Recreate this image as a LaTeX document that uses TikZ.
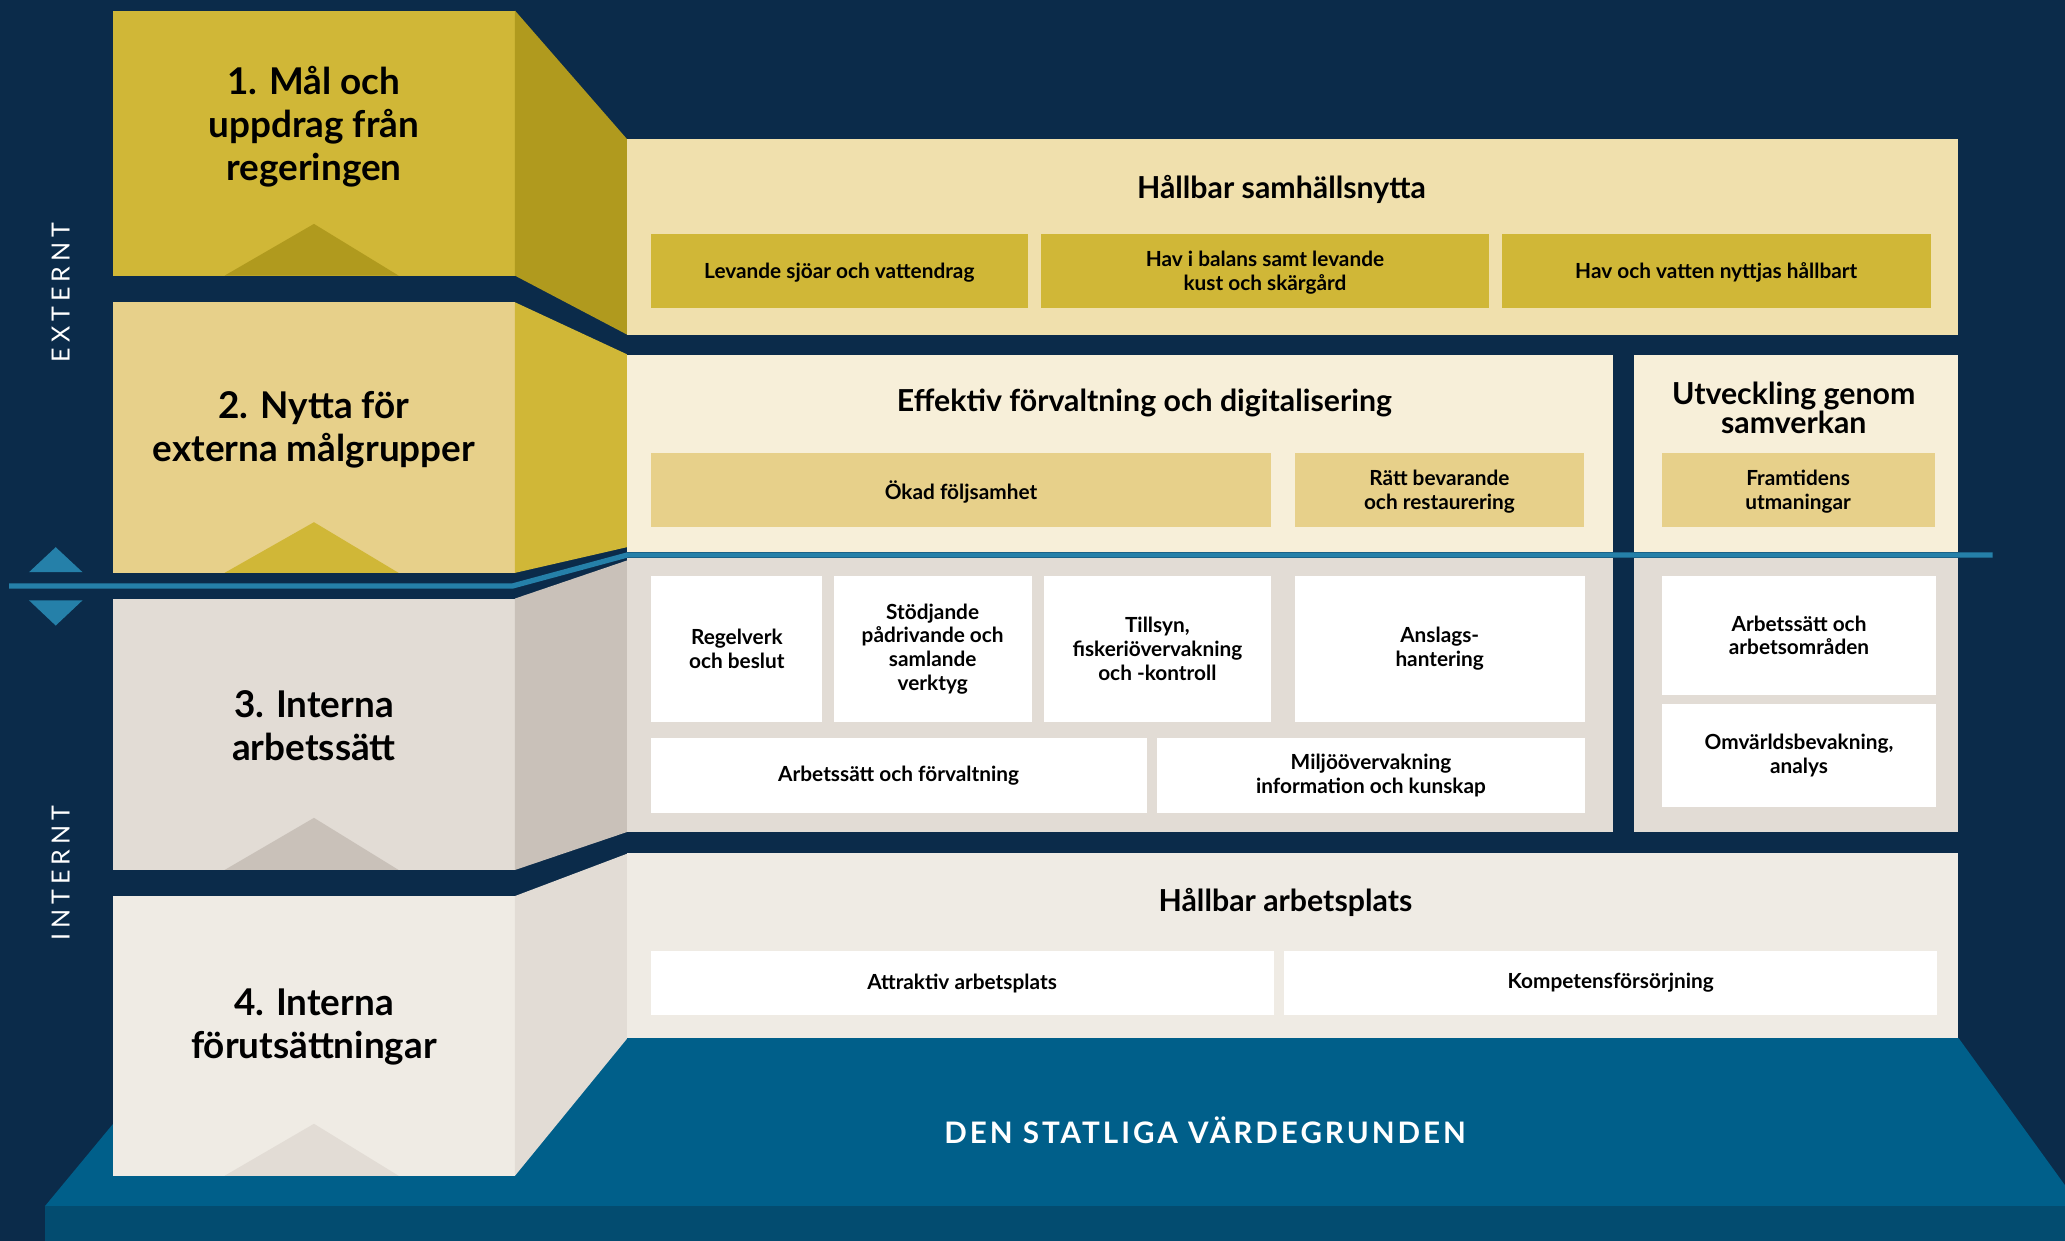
\documentclass[tikz,border=0pt]{standalone}
\usepackage{fontspec}
\setmainfont{Lato}
\newfontfamily\spacedfont[LetterSpace=20]{Lato}
\newfontfamily\spacedbold[LetterSpace=10]{Lato}
\definecolor{navy}{HTML}{0B2B4A}
\definecolor{mustard}{HTML}{D0B737}
\definecolor{mustarddk}{HTML}{B09A1E}
\definecolor{mustardlt}{HTML}{E7D08A}
\definecolor{sand}{HTML}{F0E0AD}
\definecolor{cream}{HTML}{F7EFD9}
\definecolor{greyA}{HTML}{E2DCD5}
\definecolor{greyB}{HTML}{C9C1B9}
\definecolor{offwhite}{HTML}{EFEBE4}
\definecolor{baseblue}{HTML}{005F8A}
\definecolor{stripblue}{HTML}{034C70}
\definecolor{lineblue}{HTML}{2580A9}
\begin{document}
\begin{tikzpicture}[x=1pt,y=-1pt,
  sidetext/.style={text=white, font=\spacedfont\fontsize{19}{19}\selectfont, rotate=90, inner sep=0pt},
  blocktitle/.style={font=\bfseries\fontsize{28}{32.5}\selectfont, align=center, inner sep=0pt},
  paneltitle/.style={font=\bfseries\fontsize{23}{22}\selectfont, align=center, inner sep=0pt},
  box/.style={inner sep=0pt, outer sep=0pt, align=center, font=\bfseries\fontsize{15.8}{18}\selectfont},
  ybox/.style={box, fill=mustard, text depth=0pt},
  lybox/.style={box, fill=mustardlt, text depth=0pt},
  wbox/.style={box, fill=white},
  basetext/.style={text=white, font=\spacedbold\bfseries\fontsize{22.5}{22.5}\selectfont, inner sep=0pt}]
\useasboundingbox (0,0) rectangle (1568,942.3);
\fill[navy] (0,0) rectangle (1568,942.3);
% base
\fill[baseblue] (34,916) -- (140,788) -- (1487,788) -- (1568,900) -- (1568,916) -- cycle;
\fill[stripblue] (34,916) rectangle (1568,942.3);
% panels
\fill[sand] (476,105.5) rectangle (1487,254);
\fill[cream] (476,269.6) rectangle (1225,419);
\fill[cream] (1241,269.6) rectangle (1487,419);
\fill[greyA] (476,424) rectangle (1225,631.5);
\fill[greyA] (1241,424) rectangle (1487,631.5);
\fill[offwhite] (476,648) rectangle (1487,788);
% block 1
\fill[mustard] (86,8) rectangle (391,209.3);
\fill[mustarddk] (391,8) -- (476,105.5) -- (476,254) -- (391,209.3) -- cycle;
\fill[mustarddk] (170.5,209.3) -- (238.4,170) -- (302.7,209.3) -- cycle;
% block 2
\fill[mustardlt] (86,229.5) rectangle (391,435);
\fill[mustard] (391,229.5) -- (476,269) -- (476,415.5) -- (391,435) -- cycle;
\fill[mustard] (170.5,435) -- (238.4,396.5) -- (302.7,435) -- cycle;
% block 3
\fill[greyA] (86,454.5) rectangle (391,660.6);
\fill[greyB] (391,454.5) -- (476,425.6) -- (476,631.8) -- (391,660.6) -- cycle;
\fill[greyB] (170.5,660.6) -- (238.4,621) -- (302.7,660.6) -- cycle;
% block 4
\fill[offwhite] (86,680.4) rectangle (391,892.8);
\fill[greyA] (391,680.4) -- (476,648.3) -- (476,788.8) -- (391,892.8) -- cycle;
\fill[greyA] (170.5,892.8) -- (238.4,853.3) -- (302.7,892.8) -- cycle;
% divider line and arrows
\draw[lineblue, line width=4pt] (7,445) -- (389,445) -- (476,421.5) -- (1513,421.5);
\fill[lineblue] (22,434.5) -- (42.3,415.5) -- (62.7,434.5) -- cycle;
\fill[lineblue] (22,455.8) -- (42.3,475) -- (62.7,455.8) -- cycle;
% side labels
\node[sidetext] (ext) at (46,222) {EXTERNT};
\node[sidetext] (int) at (46,663) {INTERNT};
% block titles
\node[blocktitle] (t1) at (238.4,96) {1. Mål och\\uppdrag från\\regeringen};
\node[blocktitle] (t2) at (238.4,326.5) {2. Nytta för\\externa målgrupper};
\node[blocktitle] (t3) at (238.4,551) {3. Interna\\arbetssätt};
\node[blocktitle] (t4) at (238.4,779.5) {4. Interna\\förutsättningar};
% row 1
\node[paneltitle] (p1) at (973,144) {Hållbar samhällsnytta};
\node[ybox, minimum width=286.6, minimum height=55.9] (b11) at (637.3,205.6) {Levande sjöar och vattendrag};
\node[ybox, minimum width=339.9, minimum height=55.9] (b12) at (960.5,205.6) {Hav i balans samt levande\\kust och skärgård};
\node[ybox, minimum width=325.6, minimum height=55.9] (b13) at (1303.2,205.6) {Hav och vatten nyttjas hållbart};
% row 2
\node[paneltitle] (p2) at (869,306) {Effektiv förvaltning och digitalisering};
\node[paneltitle] (p3) at (1362,310) {Utveckling genom\\samverkan};
\node[lybox, minimum width=471.4, minimum height=56] (b21) at (729.7,372) {Ökad följsamhet};
\node[lybox, minimum width=220, minimum height=56] (b22) at (1093,372) {Rätt bevarande\\och restaurering};
\node[lybox, minimum width=207.3, minimum height=56] (b23) at (1365.3,372) {Framtidens\\utmaningar};
% row 3
\node[wbox, minimum width=129.9, minimum height=110.6] (b31) at (559.5,492.7) {Regelverk\\och beslut};
\node[wbox, minimum width=150.5, minimum height=110.6] (b32) at (708.2,492.7) {Stödjande\\pådrivande och\\samlande\\verktyg};
\node[wbox, minimum width=172.3, minimum height=110.6] (b33) at (878.8,492.7) {Tillsyn,\\fiskeriövervakning\\och -kontroll};
\node[wbox, minimum width=220.5, minimum height=110.6] (b34) at (1093.2,492.7) {Anslags-\\hantering};
\node[wbox, minimum width=376.7, minimum height=56.6] (b35) at (682.3,588.7) {Arbetssätt och förvaltning};
\node[wbox, minimum width=325, minimum height=56.6] (b36) at (1041,588.7) {Miljöövervakning\\information och kunskap};
\node[wbox, minimum width=208.7, minimum height=90.1] (b37) at (1366,482.4) {Arbetssätt och\\arbetsområden};
\node[wbox, minimum width=208.7, minimum height=77.9] (b38) at (1366,573.5) {Omvärldsbevakning,\\analys};
% row 4
\node[paneltitle] (p4) at (976,685) {Hållbar arbetsplats};
\node[wbox, minimum width=473, minimum height=49] (b41) at (730.5,746.5) {Attraktiv arbetsplats};
\node[wbox, minimum width=496, minimum height=49] (b42) at (1223,746.5) {Kompetensförsörjning};
% base text
\node[basetext] (base) at (915,858) {DEN STATLIGA VÄRDEGRUNDEN};
\end{tikzpicture}
\end{document}
